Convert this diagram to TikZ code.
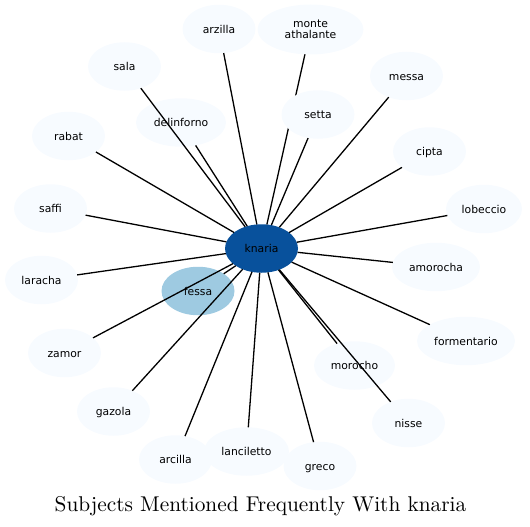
\documentclass[tikz,border=0pt]{standalone}
\usepackage{fontspec}
\newfontfamily\dvs{DejaVu Sans}
\newfontfamily\titlefont{lmroman10-regular.otf}
\usetikzlibrary{shapes.geometric}
\pgfdeclarelayer{top}
\pgfsetlayers{main,top}
\definecolor{leaf}{HTML}{F7FBFF}
\definecolor{midc}{HTML}{9ECAE1}
\definecolor{hubc}{HTML}{08519C}
\tikzset{
  blob/.style={ellipse, draw=none, fill=leaf, minimum width=73pt, minimum height=48.5pt,
    inner sep=1pt, outer sep=0pt, font=\dvs\fontsize{10.8}{11.5}\selectfont},
  ent/.style={blob, text height=9.5pt, text depth=1.1pt},
  hubnode/.style={ent, fill=hubc},
  midnode/.style={ent, fill=midc},
  link/.style={draw=black, line width=1.3pt},
}
\begin{document}
\begin{tikzpicture}[x=1pt,y=-1pt]
\useasboundingbox (0,0) rectangle (530,527);
% leaf nodes
\node[ent] (arzilla) at (219,29) {arzilla};
\node[blob, align=center, minimum width=106pt, minimum height=50pt] (monte) at (310.5,29.5) {monte\\athalante};
\node[ent] (sala) at (124.5,66.5) {sala};
\node[ent] (messa) at (406.5,76) {messa};
\node[ent, minimum width=90pt] (delinforno) at (181,122.5) {delinforno};
\node[ent] (rabat) at (68.5,136) {rabat};
\node[ent] (cipta) at (429.5,151.5) {cipta};
\node[ent] (saffi) at (50.5,208.5) {saffi};
\node[ent, minimum width=76pt] (lobeccio) at (484,209) {lobeccio};
\node[ent] (laracha) at (41.5,280) {laracha};
\node[ent, minimum width=88pt] (amorocha) at (436,267) {amorocha};
\node[ent, minimum width=98pt] (formentario) at (466,341) {formentario};
\node[ent] (zamor) at (64.5,353) {zamor};
\node[ent, minimum width=81pt] (morocho) at (354.5,365.5) {morocho};
\node[ent] (gazola) at (113.5,411.5) {gazola};
\node[ent] (nisse) at (408.5,423) {nisse};
\node[ent] (arcilla) at (175.5,459.5) {arcilla};
\node[ent, minimum width=85pt] (lanciletto) at (246.5,451.5) {lanciletto};
\node[ent] (greco) at (320,466) {greco};
\node[midnode] (fessa) at (198,291) {fessa};
\node[hubnode] (knaria) at (261.5,248.5) {knaria};
\begin{pgfonlayer}{top}
\node[ent] (setta) at (318,114.5) {setta};
\end{pgfonlayer}
% connectors
\foreach \t in {arzilla,monte,sala,messa,delinforno,setta,rabat,cipta,saffi,lobeccio,laracha,amorocha,formentario,zamor,morocho,gazola,nisse,arcilla,lanciletto,greco,fessa}
  \draw[link] (knaria) -- (\t);
% title
\node[font=\titlefont\fontsize{21.35}{25}\selectfont, anchor=base, inner sep=0pt] (title) at (260.5,511.7) {Subjects Mentioned Frequently With knaria};
\end{tikzpicture}
\end{document}
